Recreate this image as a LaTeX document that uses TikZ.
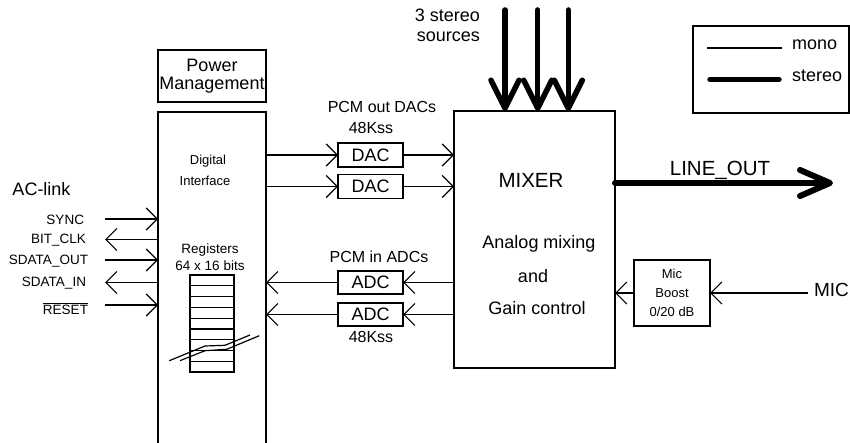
\documentclass[tikz,border=0pt]{standalone}
\usepackage{fontspec}
\setmainfont{Liberation Sans}
\usetikzlibrary{arrows.meta}
\newcommand\fsz[2]{\fontsize{#1}{#2}\selectfont}
\begin{document}
\begin{tikzpicture}[x=1pt,y=-1pt,
  every node/.style={inner sep=0pt, outer sep=0pt, font=\fsz{13.5}{13.5}},
  box/.style={draw, line width=1.2pt},
  mono/.style={line width=1.2pt},
  marr/.style={mono, -{Straight Barb[length=11pt,width=22pt]}},
  sarr/.style={line width=5.5pt, line cap=round, -{Straight Barb[round,length=28pt,width=28pt]}},
  loarr/.style={line width=6pt, line cap=round, -{Straight Barb[round,length=30pt,width=26pt]}},
  lbl/.style={anchor=base},
  big/.style={font=\fsz{18}{18}},
]
\clip (0,0) rectangle (850,443);

% Power management and digital interface
\node[box, minimum width=108pt, minimum height=52pt, align=center, font=\fsz{18}{17.5}] (pm) at (212,76) {Power\\Management};
\node[box, minimum width=108pt, minimum height=345pt, anchor=north] (di) at (212,112) {};
\node[lbl, font=\fsz{13}{13}] (dig) at (208,165) {Digital};
\node[lbl, font=\fsz{13}{13}] (intf) at (205,186) {Interface};
\node[lbl] (reg) at (210,254) {Registers};
\node[lbl] (regsz) at (210,270.7) {64 x 16 bits};

% register stack
\draw[mono] (190,275) rectangle (234,372);
\foreach \yy in {285.8,296.6,307.3,318.1,328.9,339.7,350.4,361.2}
  \draw[mono] (190,\yy) -- (234,\yy);
\draw[mono] (169.3,360.7) -- (205,346) -- (225,345.3) -- (250,335);
\draw[mono] (180,360.7) -- (205,350.7) -- (226.7,349.3) -- (259.3,335.7);

% AC-link
\node[anchor=base west, big] (aclink) at (12.5,196) {AC-link};
\coordinate (sync) at (105,219);
\coordinate (bitclk) at (105,239.5);
\coordinate (sdo) at (105,260);
\coordinate (sdi) at (105,282.5);
\coordinate (rst) at (105,305);
\draw[marr] (sync) -- (sync -| di.west);
\draw[marr] (bitclk -| di.west) -- (bitclk);
\draw[marr] (sdo) -- (sdo -| di.west);
\draw[marr] (sdi -| di.west) -- (sdi);
\draw[marr] (rst) -- (rst -| di.west);
\node[anchor=base east] (lsync) at (84,225) {SYNC};
\node[anchor=base east] (lbit) at (86,244) {BIT\_CLK};
\node[anchor=base east] (lsdo) at (88,265) {SDATA\_OUT};
\node[anchor=base east] (lsdi) at (86,287) {SDATA\_IN};
\node[anchor=base east] (lrst) at (88,314) {$\overline{\hbox{RESET}}$};

% mixer
\node[box, minimum width=161pt, minimum height=257pt] (mix) at (534.5,239.5) {};
\node[lbl, font=\fsz{20.5}{20.5}] (mixt) at (531,187.3) {MIXER};
\node[lbl, big] (am) at (539,249) {Analog mixing};
\node[lbl, big] (and) at (533,282.7) {and};
\node[lbl, big] (gc) at (537,314) {Gain control};

% DACs
\node[box, minimum width=65pt, minimum height=24pt, big] (dac1) at (370.5,155) {DAC};
\node[box, minimum width=65pt, minimum height=24pt, big] (dac2) at (370.5,186.5) {DAC};
\draw[marr] (dac1.west -| di.east) -- (dac1.west);
\draw[marr] (dac1.east) -- (dac1.east -| mix.west);
\draw[marr] (dac2.west -| di.east) -- (dac2.west);
\draw[marr] (dac2.east) -- (dac2.east -| mix.west);
\node[lbl, font=\fsz{16}{16}] (pcmout) at (382,113) {PCM out DACs};
\node[lbl, font=\fsz{16}{16}] (rate1) at (371,134) {48Kss};

% ADCs
\node[box, minimum width=65pt, minimum height=23pt, big] (adc1) at (370.5,282.5) {ADC};
\node[box, minimum width=65pt, minimum height=23pt, big] (adc2) at (370.5,314.5) {ADC};
\draw[marr] (adc1.east -| mix.west) -- (adc1.east);
\draw[marr] (adc1.west) -- (adc1.west -| di.east);
\draw[marr] (adc2.east -| mix.west) -- (adc2.east);
\draw[marr] (adc2.west) -- (adc2.west -| di.east);
\node[lbl, font=\fsz{16}{16}] (pcmin) at (379,263) {PCM in ADCs};
\node[lbl, font=\fsz{16}{16}] (rate2) at (371,342.5) {48Kss};

% stereo sources
\coordinate (s1) at (505,10);
\coordinate (s2) at (537.7,10);
\coordinate (s3) at (568.3,10);
\draw[sarr] (s1) -- (s1 |- mix.north);
\draw[sarr] (s2) -- (s2 |- mix.north);
\draw[sarr] (s3) -- (s3 |- mix.north);
\node[lbl, big] (src1) at (447.5,21.5) {3 stereo};
\node[lbl, big] (src2) at (448.3,41.7) {sources};

% line out
\coordinate (lo) at (833,183);
\draw[loarr] (lo -| mix.east) -- (lo);
\node[lbl, font=\fsz{20.5}{20.5}] (lolbl) at (720,176) {LINE\_OUT};

% mic boost
\node[box, minimum width=76pt, minimum height=66pt, align=center, font=\fsz{13}{19}] (mb) at (672,293) {Mic\\Boost\\0/20 dB};
\node[anchor=base west, inner xsep=6pt, font=\fsz{19}{19}] (mic) at (808,296.7) {MIC};
\draw[marr] (mb.east -| mic.west) -- (mb.east);
\draw[marr] (mb.west) -- (mb.west -| mix.east);

% legend
\node[box, minimum width=156pt, minimum height=87pt] (leg) at (771,69.5) {};
\coordinate (m1) at (707,48);
\coordinate (m2) at (782,48);
\draw[mono] (m1) -- (m2);
\coordinate (st1) at (710,79.5);
\coordinate (st2) at (779,79.5);
\draw[line width=5.5pt, line cap=round] (st1) -- (st2);
\node[anchor=base west, big] (monol) at (792,49.3) {mono};
\node[anchor=base west, big] (stl) at (792,81.7) {stereo};
\end{tikzpicture}
\end{document}
